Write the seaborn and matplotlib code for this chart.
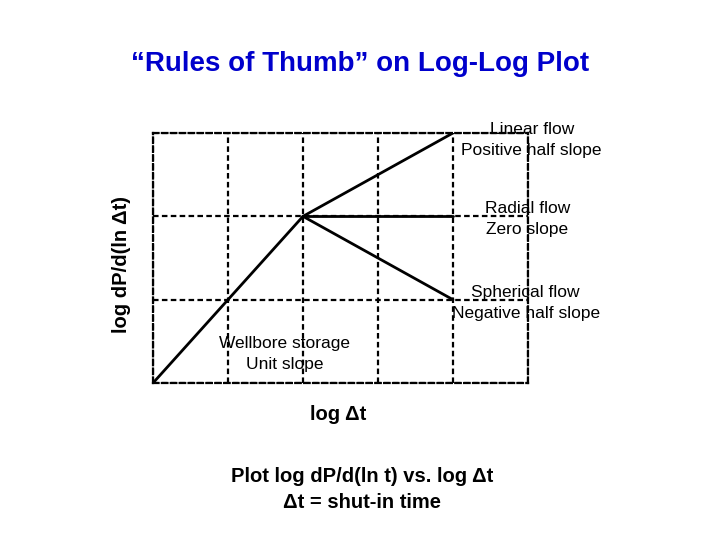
import numpy as np
import pandas as pd
import seaborn as sns
import matplotlib.pyplot as plt

# regime lines on the log-log diagnostic plot (log dt, log dP')
segment = ['wellbore', 'wellbore', 'linear', 'linear', 'radial', 'radial', 'spherical', 'spherical']
log_dt = [0, 2, 2, 4, 2, 4, 2, 4]
log_dp = [0, 2, 2, 3, 2, 2, 2, 1]

labels = [('Linear flow\nPositive half slope', 5.05, 2.92),
          ('Radial flow\nZero slope', 4.99, 1.97),
          ('Spherical flow\nNegative half slope', 4.97, 0.96),
          ('Wellbore storage\nUnit slope', 1.76, 0.35)]

if __name__ == '__main__':
    sns.set_style('white')
    plt.rcParams['font.family'] = ['Liberation Sans', 'DejaVu Sans']
    plt.rcParams['text.color'] = 'black'

    df = pd.DataFrame({'segment': segment, 'log_dt': log_dt, 'log_dp': log_dp})

    f = plt.figure(figsize=(7.2, 5.4), dpi=100)
    ax = f.add_axes([0.2125, 0.2907, 0.5208, 0.463])

    sns.lineplot(df, x='log_dt', y='log_dp', units='segment', estimator=None, color='black',
                 lw=2, ax=ax)

    dash = (0, (2.5, 1.5))
    ax.set(xlim=(0, 5), ylim=(0, 3), xlabel='', ylabel='')
    ax.set_xticks(np.arange(0, 6))
    ax.set_yticks(np.arange(0, 4))
    ax.tick_params(length=0, labelbottom=False, labelleft=False)
    ax.grid(True, color='black', linestyle=dash, lw=1.6)
    for s in ax.spines.values():
        s.set_visible(True)
        s.set_color('black')
        s.set_linestyle(dash)
        s.set_linewidth(1.6)

    for txt, x, y in labels:
        ax.text(x, y, txt, ha='center', va='center', fontsize=12.5, linespacing=1.5,
                color='black', clip_on=False)

    f.text(0.5, 0.882, '\u201cRules of Thumb\u201d on Log-Log Plot', ha='center', va='center',
           fontsize=20, fontweight='bold', color='#0000cc')
    f.text(0.469, 0.233, 'log \u0394t', ha='center', va='center', fontsize=14.5, fontweight='bold')
    f.text(0.169, 0.511, 'log dP/d(ln \u0394t)', ha='center', va='center', rotation=90,
           fontsize=14.5, fontweight='bold')
    f.text(0.503, 0.117, 'Plot log dP/d(ln t) vs. log \u0394t', ha='center', va='center',
           fontsize=14.5, fontweight='bold')
    f.text(0.503, 0.070, '\u0394t = shut-in time', ha='center', va='center',
           fontsize=14.5, fontweight='bold')

    plt.savefig('out.png', dpi=100)
